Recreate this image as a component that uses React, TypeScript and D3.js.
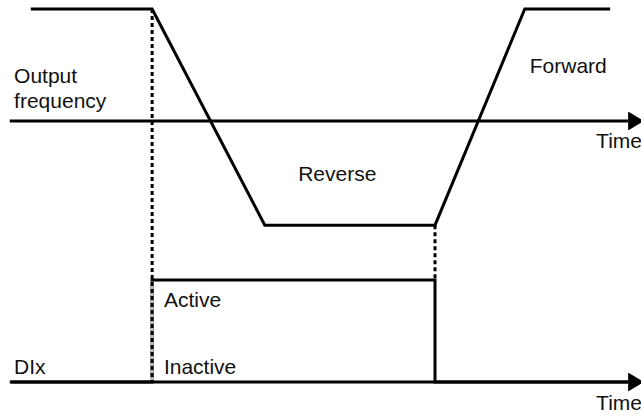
import { useEffect, useRef } from "react";
import * as d3 from "d3";

const W = 641;
const H = 417;

// output frequency profile (time, per-unit frequency)
const freqTime = [0.32, 2.28, 4.1, 6.85, 8.3, 9.68];
const freqValue = [1, 1, -0.93, -0.93, 1, 1];

// DIx digital input (time, level)
const diTime = [0, 2.28, 2.28, 6.85, 6.85, 9.97];
const diLevel = [0, 0, 1, 1, 0, 0];

// dotted markers where DIx switches
const switchTimes = [2.28, 6.85];

const freqLabels = [
  { text: "Output", t: 0.05, v: 0.34 },
  { text: "frequency", t: 0.05, v: 0.116 },
  { text: "Forward", t: 8.38, v: 0.43 },
  { text: "Reverse", t: 4.64, v: -0.54 },
];
const diLabels = [
  { text: "Active", t: 2.47, v: 0.735 },
  { text: "Inactive", t: 2.47, v: 0.08 },
  { text: "DIx", t: 0.05, v: 0.08 },
];

const FONT = "Arial, 'Liberation Sans', Helvetica, sans-serif";

export default function App() {
  const svgRef = useRef<SVGSVGElement | null>(null);

  useEffect(() => {
    const el = svgRef.current;
    if (!el) return;
    const svg = d3.select(el);
    svg.selectAll("*").remove();

    const x = d3.scaleLinear().domain([0, 10]).range([11, 630]);
    const yF = d3.scaleLinear().domain([0, 1]).range([121, 9]);
    const yD = d3.scaleLinear().domain([0, 1]).range([382, 280]);

    svg.append("defs").append("marker")
      .attr("id", "arrow").attr("viewBox", "0 0 10 10")
      .attr("refX", 0).attr("refY", 5)
      .attr("markerWidth", 5.2).attr("markerHeight", 6.3)
      .attr("markerUnits", "strokeWidth")
      .attr("orient", "auto")
      .attr("preserveAspectRatio", "none")
      .append("path").attr("d", "M0,0 L10,5 L0,10 Z").attr("fill", "#000");

    // dotted switch markers
    const yTop = yF(1);
    const yLow = yF(-0.93);
    svg.append("line")
      .attr("x1", x(switchTimes[1])).attr("x2", x(switchTimes[1]))
      .attr("y1", yLow).attr("y2", yD(1))
      .attr("stroke", "#000").attr("stroke-width", 3)
      .attr("stroke-dasharray", "4 3");

    // time axes
    [yF(0), yD(0)].forEach(yy => {
      svg.append("line")
        .attr("x1", x(-0.02)).attr("x2", x(9.97))
        .attr("y1", yy).attr("y2", yy)
        .attr("stroke", "#000").attr("stroke-width", 3)
        .attr("marker-end", "url(#arrow)");
    });

    // frequency curve
    const line = d3.line<number>()
      .x((_, i) => x(freqTime[i]))
      .y(d => yF(d));
    svg.append("path").datum(freqValue)
      .attr("d", line)
      .attr("fill", "none").attr("stroke", "#000").attr("stroke-width", 3)
      .attr("stroke-linejoin", "miter");

    // DIx pulse
    const diLine = d3.line<number>()
      .x((_, i) => x(diTime[i]))
      .y(d => yD(d));
    svg.append("path").datum(diLevel)
      .attr("d", diLine)
      .attr("fill", "none").attr("stroke", "#000").attr("stroke-width", 3);

    // rising edge shown as dotted over a light trace
    svg.append("line")
      .attr("x1", x(switchTimes[0])).attr("x2", x(switchTimes[0]))
      .attr("y1", yD(1) + 1.5).attr("y2", yD(0) - 1.5)
      .attr("stroke", "#bdbdbd").attr("stroke-width", 3);
    svg.append("line")
      .attr("x1", x(switchTimes[0])).attr("x2", x(switchTimes[0]))
      .attr("y1", yTop).attr("y2", yD(0))
      .attr("stroke", "#000").attr("stroke-width", 3)
      .attr("stroke-dasharray", "4 3");

    const txt = (s: string, px: number, py: number, anchor = "start") =>
      svg.append("text").attr("x", px).attr("y", py)
        .attr("text-anchor", anchor)
        .attr("font-family", FONT).attr("font-size", 21)
        .attr("fill", "#111").text(s);

    freqLabels.forEach(l => txt(l.text, x(l.t), yF(l.v)));
    diLabels.forEach(l => txt(l.text, x(l.t), yD(l.v)));
    txt("Time", W + 1, yF(0) + 27, "end");
    txt("Time", W + 1, yD(0) + 28, "end");
  }, []);

  return (
    <svg ref={svgRef} width={W} height={H}
      style={{ position: "absolute", left: 0, top: 0, background: "#fff" }} />
  );
}
